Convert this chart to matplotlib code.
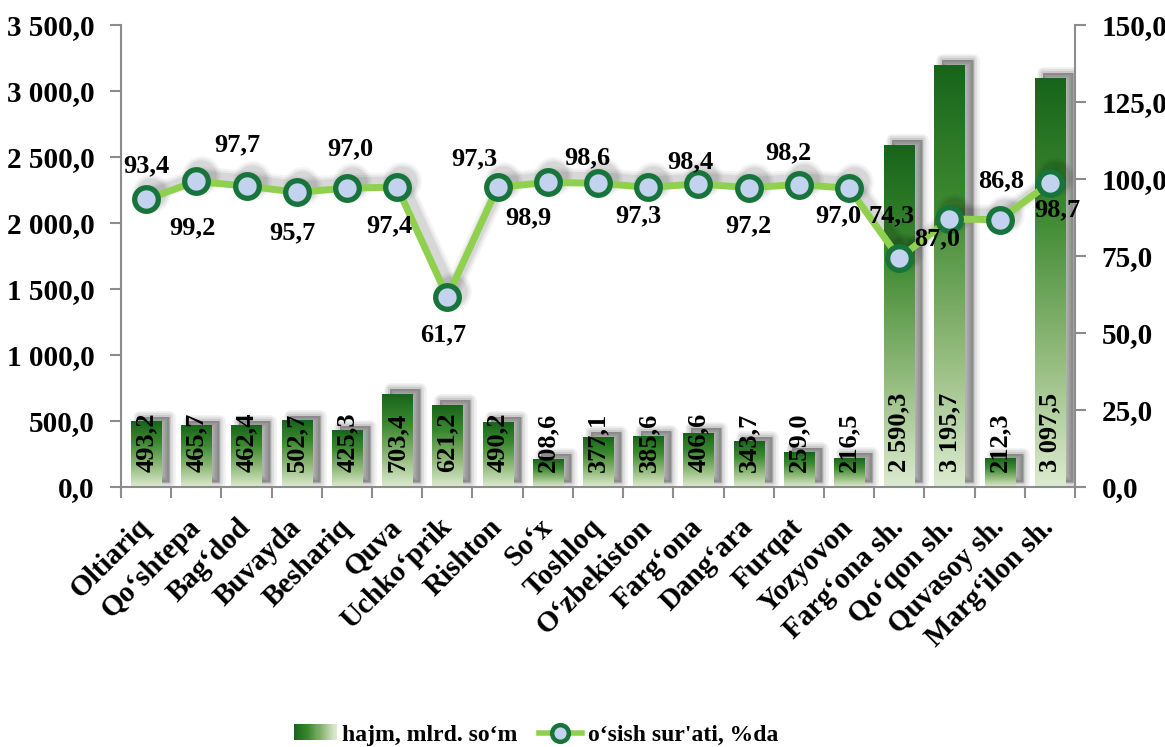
import numpy as np
import matplotlib
matplotlib.use("Agg")
import matplotlib.pyplot as plt
from matplotlib.colors import LinearSegmentedColormap
from matplotlib.patches import Rectangle
from matplotlib.lines import Line2D
from matplotlib.legend_handler import HandlerBase
from matplotlib.transforms import ScaledTranslation

# ---------------- data ----------------
categories = ["Oltiariq", "Qo‘shtepa", "Bag‘dod", "Buvayda", "Beshariq", "Quva",
              "Uchko‘prik", "Rishton", "So‘x", "Toshloq", "O‘zbekiston", "Farg‘ona",
              "Dang‘ara", "Furqat", "Yozyovon", "Farg‘ona sh.", "Qo‘qon sh.",
              "Quvasoy sh.", "Marg‘ilon sh."]
volume = [493.2, 465.7, 462.4, 502.7, 425.3, 703.4, 621.2, 490.2, 208.6, 377.1,
          385.6, 406.6, 343.7, 259.0, 216.5, 2590.3, 3195.7, 212.3, 3097.5]
growth = [93.4, 99.2, 97.7, 95.7, 97.0, 97.4, 61.7, 97.3, 98.9, 98.6, 97.3, 98.4,
          97.2, 98.2, 97.0, 74.3, 87.0, 86.8, 98.7]
left_ticks = [0, 500, 1000, 1500, 2000, 2500, 3000, 3500]
left_labels = ["0,0", "500,0", "1 000,0", "1 500,0", "2 000,0", "2 500,0", "3 000,0", "3 500,0"]
right_ticks = [0, 25, 50, 75, 100, 125, 150]
right_labels = ["0,0", "25,0", "50,0", "75,0", "100,0", "125,0", "150,0"]
legend_labels = ["hajm, mlrd. so‘m", "o‘sish sur'ati, %da"]

# label offsets (pixels) for growth labels
lab_dx = [0, -4, -9, -4, 3, -8, -4, -23, -19, -11, -10, -8, 0, -10, -11, -8, -12, 1, 7]
lab_dy = [34, -46, 41, -41, 39, -39, -38, 29, -35, 25, -28, 22, -38, 32, -28, 42, -20, 39, -27]

def fmt(v):
    return f"{v:,.1f}".replace(",", " ").replace(".", ",")

plt.rcParams["font.family"] = ["Liberation Serif", "DejaVu Serif"]
plt.rcParams["font.weight"] = "bold"

W, H, DPI = 1165, 747, 100
fig = plt.figure(figsize=(W / DPI, H / DPI), dpi=DPI)
ax = fig.add_axes([121 / W, 1 - 487 / H, (1075 - 121) / W, (487 - 25) / H])

cmap = LinearSegmentedColormap.from_list("g", ["#dcebd0", "#8fb878", "#3e8a32", "#17651a"])
grad = np.linspace(0, 1, 256)[:, None]

x = np.arange(len(categories))
bars = ax.bar(x, volume, width=0.6, color="none", edgecolor="none", zorder=3)

off = ax.transData + ScaledTranslation(8 / DPI, 5 / DPI, fig.dpi_scale_trans)
for p in bars.patches:
    x0, w, h = p.get_x(), p.get_width(), p.get_height()
    # soft shadow
    for lw, a in [(9, 0.06), (6, 0.07), (3, 0.09), (0.5, 0.12)]:
        ax.add_patch(Rectangle((x0, 0), w, h, fc=(0, 0, 0, a), ec=(0, 0, 0, a),
                               lw=lw, joinstyle="round", transform=off, zorder=1,
                               clip_on=True))
    ax.imshow(grad, cmap=cmap, extent=[x0, x0 + w, 0, h], origin="lower",
              aspect="auto", zorder=2, interpolation="bicubic")

for xi, v in zip(x, volume):
    ax.annotate(fmt(v), (xi, 0), xytext=(0, 15), textcoords="offset pixels",
                rotation=90, ha="center", va="bottom", fontsize=19,
                fontweight="bold", color="black", zorder=5)

ax.set_xlim(-0.5, len(categories) - 0.5)
ax.set_ylim(0, 3500)
ax.set_yticks(left_ticks)
ax.set_yticklabels(left_labels, fontsize=21, fontweight="bold")
ax.set_xticks(x)
ax.set_xticklabels(categories, rotation=45, ha="right", va="center",
                   rotation_mode="anchor", fontsize=21, fontweight="bold")
shift = ScaledTranslation(7 / DPI, 0, fig.dpi_scale_trans)
for lbl in ax.get_xticklabels():
    lbl.set_transform(lbl.get_transform() + shift)
ax.set_xticks(np.arange(-0.5, len(categories), 1.0), minor=True)
ax.tick_params(axis="x", which="major", length=0, pad=26)
ax.tick_params(axis="x", which="minor", length=8, width=1.5, color="#8c8c8c", direction="out")
ax.tick_params(axis="y", length=8, width=1.5, color="#8c8c8c", direction="out", pad=11)
for s in ["top", "right"]:
    ax.spines[s].set_visible(False)
for s in ["left", "bottom"]:
    ax.spines[s].set_color("#8c8c8c")
    ax.spines[s].set_linewidth(1.5)

ax2 = ax.twinx()
ax2.set_ylim(0, 150)
ax2.set_yticks(right_ticks)
ax2.set_yticklabels(right_labels, fontsize=21, fontweight="bold")
ax2.tick_params(axis="y", length=8, width=1.5, color="#8c8c8c", direction="out", pad=11)
for s in ["top", "left", "bottom"]:
    ax2.spines[s].set_visible(False)
ax2.spines["right"].set_color("#8c8c8c")
ax2.spines["right"].set_linewidth(1.5)

line_color = "#8fd14f"
edge_color = "#17743a"
face_color = "#c3d2ef"

# line shadow
sh = ax2.transData + ScaledTranslation(5 / DPI, 6 / DPI, fig.dpi_scale_trans)
for lw, ms, a in [(13, 28, 0.04), (10, 25, 0.05), (7, 22, 0.07)]:
    ax2.plot(x, growth, color="k", alpha=a, lw=lw, marker="o", ms=ms,
             mec="none", mfc="k", transform=sh, zorder=1, solid_joinstyle="round")

ax2.plot(x, growth, color=line_color, lw=5, marker="o", ms=17, mfc=face_color,
         mec=edge_color, mew=3.8, zorder=3, solid_joinstyle="round")

for xi, v, dx, dy in zip(x, growth, lab_dx, lab_dy):
    ax2.annotate(fmt(v), (xi, v), xytext=(dx, dy), textcoords="offset pixels",
                 ha="center", va="center", fontsize=19, fontweight="bold",
                 color="black", zorder=6)


class GradHandler(HandlerBase):
    def create_artists(self, legend, orig_handle, xdescent, ydescent, width,
                       height, fontsize, trans):
        n = 40
        arts = []
        for i in range(n):
            c = cmap(1 - i / (n - 1))
            arts.append(Rectangle((-xdescent + i * width / n, -ydescent),
                                  width / n * 1.1, height, fc=c, ec="none",
                                  transform=trans))
        return arts


bar_handle = Rectangle((0, 0), 1, 1)
line_handle = Line2D([], [], color=line_color, lw=4, marker="o", ms=12,
                     mfc=face_color, mec=edge_color, mew=3.2)
fig.legend([bar_handle, line_handle], legend_labels,
           handler_map={Rectangle: GradHandler()},
           loc="center", bbox_to_anchor=(536 / W, 1 - 735 / H), ncol=2,
           frameon=False, prop={"size": 17, "weight": "bold"},
           handlelength=1.8, handleheight=0.65, handletextpad=0.25,
           columnspacing=0.9)

fig.savefig("out.png", dpi=DPI)
